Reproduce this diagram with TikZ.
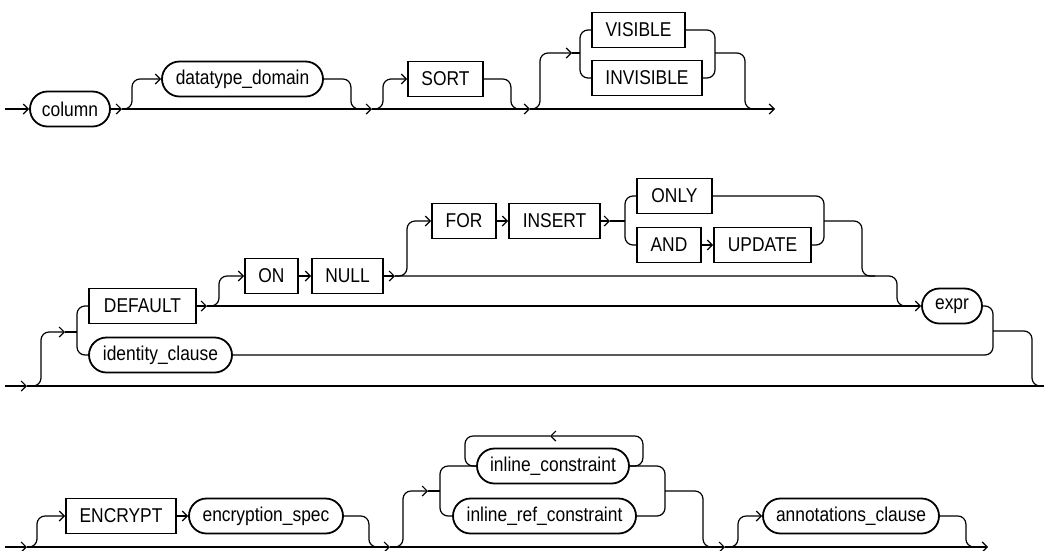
\documentclass[tikz,border=0pt]{standalone}
\usepackage{fontspec}
\setmainfont{Liberation Sans}[FakeStretch=0.87]
\usetikzlibrary{arrows.meta}

\begin{document}
\begin{tikzpicture}[
  x=1pt, y=-1pt,
  kw/.style={draw, rectangle, line width=1.8pt, minimum height=35pt, inner xsep=0pt,
    font=\fontsize{20}{22}\selectfont},
  nt/.style={kw, rounded corners=17.5pt},
  rail/.style={line width=1.2pt, rounded corners=8pt},
  >={Straight Barb[length=5pt,width=10pt]}
]
\useasboundingbox (0,0) rectangle (1044,550);

% row 1
\node[nt, minimum width=80pt] (column) at (70,109) {column};
\node[nt, minimum width=161pt] (dtdom) at (242.5,79) {datatype\_domain};
\node[kw, minimum width=75pt] (sort) at (445.5,79) {SORT};
\node[kw, minimum width=93pt] (visible) at (638.5,30) {VISIBLE};
\node[kw, minimum width=110pt] (invisible) at (647,78) {INVISIBLE};

\coordinate (r1in) at (5,109);
\coordinate (r1a) at (122,109);
\coordinate (r1b) at (372,109);
\coordinate (r1c) at (530,109);
\coordinate (r1out) at (775,109);
\coordinate (j1) at (362,109);
\coordinate (j2) at (520,109);
\coordinate (j3) at (760,109);
\coordinate (visarr) at (572,53);
\coordinate (visin) at (580,53);
\coordinate (visout) at (715,53);

\draw[rail,->] (r1in) -- (column);
\draw[rail,->] (column) -- (r1a);
\draw[rail,->] (r1a) -- (r1b);
\draw[rail,->] (r1b) -- (r1c);
\draw[rail,->] (r1c) -- (r1out);
\draw[rail,->] (r1a) -- ++(10,0) |- (dtdom.west);
\draw[rail] (dtdom.east) -- ++(27,0) |- (j1);
\draw[rail,->] (r1b) -- ++(11,0) |- (sort.west);
\draw[rail] (sort.east) -- ++(27,0) |- (j2);
\draw[rail,->] (r1c) -- ++(10,0) |- (visarr);
\draw[rail] (visarr) -- (visin);
\draw[rail] (visible.west) -| (visin) |- (invisible.west);
\draw[rail] (visible.east) -| (visout) |- (invisible.east);
\draw[rail] (visout) -- ++(30,0) |- (j3);

% row 2
\node[kw, minimum width=107pt] (default) at (142.5,306) {DEFAULT};
\node[nt, minimum width=143pt] (identity) at (160.5,355) {identity\_clause};
\node[kw, minimum width=53pt] (on) at (271.5,276) {ON};
\node[kw, minimum width=71pt] (null) at (347.5,276) {NULL};
\node[kw, minimum width=64pt] (for) at (464,221) {FOR};
\node[kw, minimum width=91pt] (insert) at (554.5,221) {INSERT};
\node[kw, minimum width=75pt] (only) at (674.5,196) {ONLY};
\node[kw, minimum width=64pt] (and) at (669,245) {AND};
\node[kw, minimum width=97pt] (update) at (762.5,245) {UPDATE};
\node[nt, minimum width=60pt] (expr) at (952,306) {expr};

\coordinate (r2in) at (5,386);
\coordinate (r2a) at (27,386);
\coordinate (r2out) at (1044,386);
\coordinate (dfarr) at (65,332);
\coordinate (dfin) at (77,332);
\coordinate (dfa) at (207,306);
\coordinate (nullarr) at (395,276);
\coordinate (onjoin) at (897,276);
\coordinate (insarr) at (610,221);
\coordinate (updin) at (625,221);
\coordinate (updout) at (824,221);
\coordinate (j4) at (875,276);
\coordinate (j5) at (910,306);
\coordinate (exprout) at (993,331);
\coordinate (j6) at (1044,386);

\draw[rail,->] (r2in) -- (r2a);
\draw[rail] (r2a) -- (r2out);
\draw[rail,->] (r2a) -- ++(14,0) |- (dfarr);
\draw[rail] (dfarr) -- (dfin);
\draw[rail] (default.west) -| (dfin) |- (identity.west);
\draw[rail,->] (default) -- (dfa);
\draw[rail,->] (dfa) -- (expr);
\draw[rail,->] (dfa) -- ++(12,0) |- (on.west);
\draw[rail,->] (on) -- (null);
\draw[rail,->] (null) -- (nullarr);
\draw[rail] (nullarr) -- (onjoin) |- (j5);
\draw[rail,->] (nullarr) -- ++(12,0) |- (for.west);
\draw[rail,->] (for) -- (insert);
\draw[rail,->] (insert) -- (insarr);
\draw[rail] (insarr) -- (updin);
\draw[rail] (only.west) -| (updin) |- (and.west);
\draw[rail,->] (and) -- (update);
\draw[rail] (only.east) -| (updout) |- (update.east);
\draw[rail] (updout) -- ++(38,0) |- (j4);
\draw[rail] (expr.east) -| (exprout) |- (identity.east);
\draw[rail] (exprout) -- ++(39,0) |- (j6);

% row 3
\node[kw, minimum width=110pt] (encrypt) at (121,516) {ENCRYPT};
\node[nt, minimum width=154pt] (encspec) at (266,516) {encryption\_spec};
\node[nt, minimum width=152pt] (inlcon) at (553,466) {inline\_constraint};
\node[nt, minimum width=183pt] (inlref) at (544.5,516) {inline\_ref\_constraint};
\node[nt, minimum width=176pt] (annot) at (851,516) {annotations\_clause};

\coordinate (r3in) at (5,547);
\coordinate (r3a) at (27,547);
\coordinate (r3b) at (390,547);
\coordinate (r3c) at (725,547);
\coordinate (r3out) at (988,547);
\coordinate (j7) at (378,547);
\coordinate (conarr) at (428,491);
\coordinate (conin) at (440,491);
\coordinate (conout) at (665,491);
\coordinate (j8) at (715,547);
\coordinate (j9) at (977,547);
\coordinate (looparr) at (550,436);
\coordinate (loopleft) at (465,436);

\draw[rail,->] (r3in) -- (r3a);
\draw[rail,->] (r3a) -- (r3b);
\draw[rail,->] (r3b) -- (r3c);
\draw[rail,->] (r3c) -- (r3out);
\draw[rail,->] (r3a) -- ++(10,0) |- (encrypt.west);
\draw[rail,->] (encrypt) -- (encspec);
\draw[rail] (encspec.east) -- ++(25,0) |- (j7);
\draw[rail,->] (r3b) -- ++(13,0) |- (conarr);
\draw[rail] (conarr) -- (conin);
\draw[rail] (inlcon.west) -| (conin) |- (inlref.west);
\draw[rail] (inlcon.east) -| (conout) |- (inlref.east);
\draw[rail] (conout) -- ++(38,0) |- (j8);
\draw[rail,->] (inlcon.east) -- ++(13,0) |- (looparr);
\draw[rail] (looparr) -- (loopleft) |- (inlcon.west);
\draw[rail,->] (r3c) -- ++(13,0) |- (annot.west);
\draw[rail] (annot.east) -- ++(26,0) |- (j9);
\end{tikzpicture}
\end{document}
